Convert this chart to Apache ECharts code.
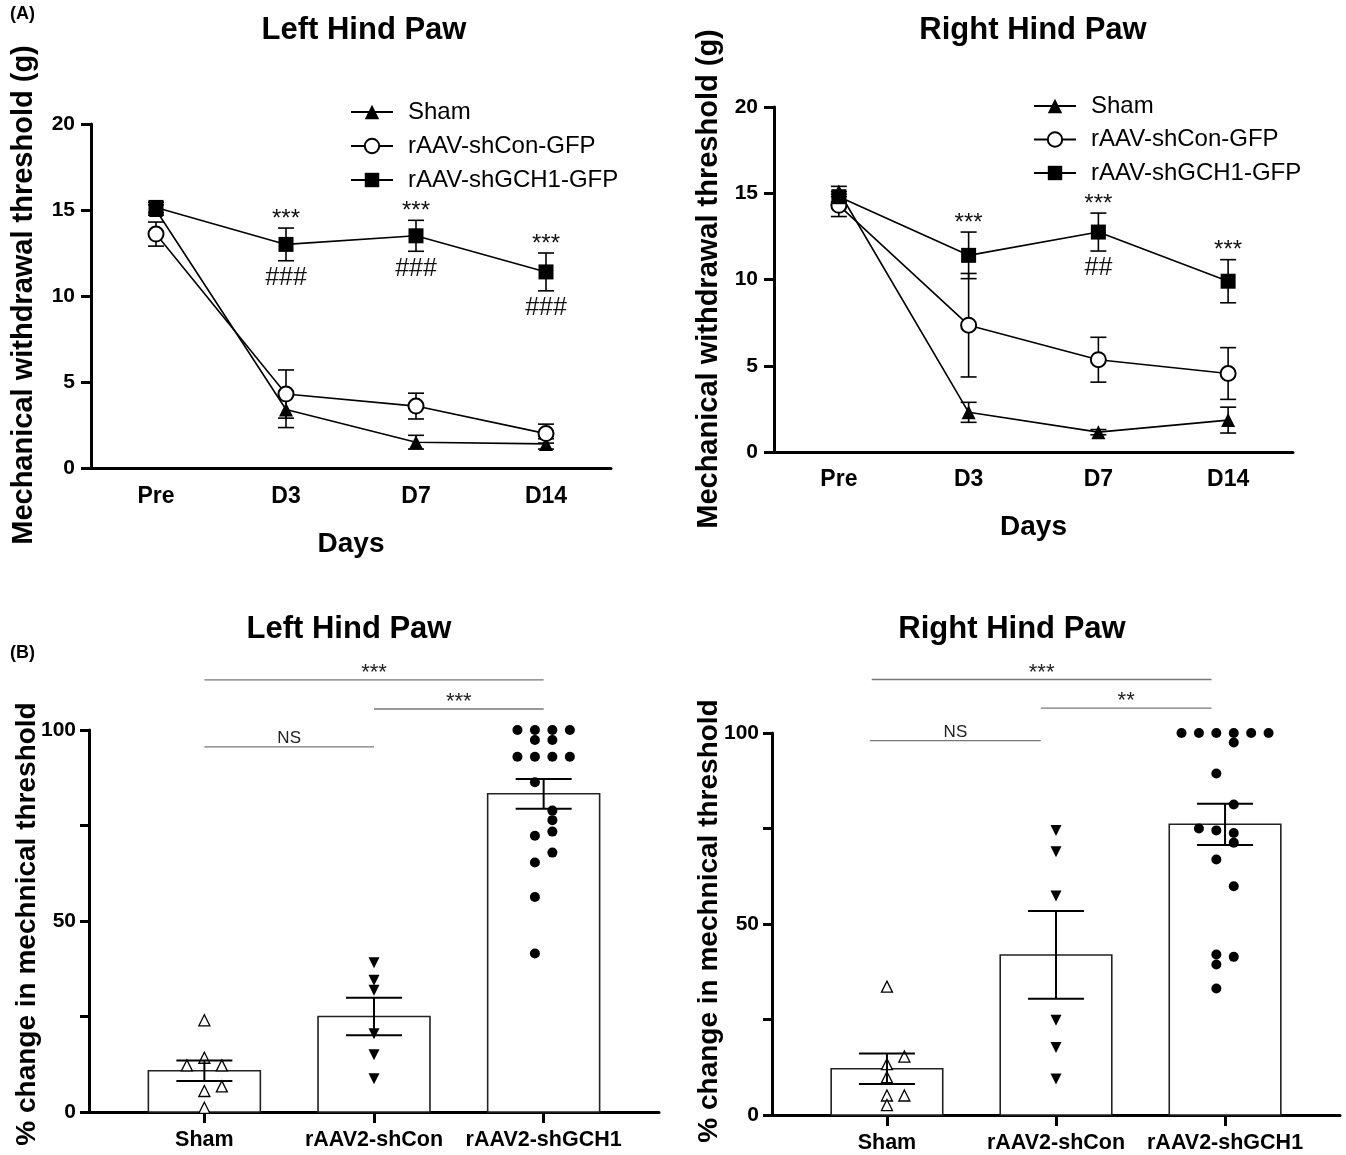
<!DOCTYPE html>
<html><head><meta charset="utf-8">
<script src="https://cdn.jsdelivr.net/npm/echarts@6/dist/echarts.min.js"></script>
<style>html,body{margin:0;padding:0;background:#fff}#c{width:1346px;height:1155px}</style>
</head><body><div id="c"></div>
<script>
// ---------- data ----------
const days = ['Pre', 'D3', 'D7', 'D14'];
const lineNames = ['Sham', 'rAAV-shCon-GFP', 'rAAV-shGCH1-GFP'];

// (A) Left hind paw: mean and SEM
const leftSham = [15.0, 3.4, 1.5, 1.4];
const leftShamSem = [0.3, 1.05, 0.4, 0.3];
const leftShCon = [13.6, 4.3, 3.6, 2.0];
const leftShConSem = [0.7, 1.4, 0.75, 0.55];
const leftShGCH1 = [15.15, 13.0, 13.5, 11.4];
const leftShGCH1Sem = [0.3, 0.95, 0.9, 1.1];
const leftStars = ['', '***', '***', '***'];
const leftHashes = ['', '###', '###', '###'];

// (A) Right hind paw: mean and SEM
const rightSham = [15.1, 2.3, 1.15, 1.85];
const rightShamSem = [0.3, 0.58, 0.15, 0.75];
const rightShCon = [14.3, 7.35, 5.35, 4.55];
const rightShConSem = [0.65, 3.0, 1.3, 1.5];
const rightShGCH1 = [14.8, 11.4, 12.75, 9.9];
const rightShGCH1Sem = [0.3, 1.35, 1.1, 1.25];
const rightStars = ['', '***', '***', '***'];
const rightHashes = ['', '', '##', ''];

// (B) % change in mechanical threshold
const groups = ['Sham', 'rAAV2-shCon', 'rAAV2-shGCH1'];
const leftPctMean = [10.8, 25.0, 83.3];
const leftPctSem = [2.7, 4.9, 3.9];
const leftShamPts = [24.0, 14.2, 12.2, 12.2, 6.7, 5.5, 1.1];
const leftShamCol = [0, 0, -1, 1, 1, 0, 0];
const leftShConPts = [39.1, 34.5, 31.9, 20.5, 15.0, 8.7];
const leftShConCol = [0, 0, 0, 0, 0, 0];
const leftGCH1Pts = [100, 100, 100, 100, 97.4, 97.4, 93.0, 93.0, 93.0, 93.0, 86.3, 78.9, 76.4, 73.4, 72.3, 67.9, 65.3, 56.3, 41.5];
const leftGCH1Col = [-1.5, -0.5, 0.5, 1.5, -0.5, 0.5, -1.5, -0.5, 0.5, 1.5, -0.5, 0.5, 0.5, 0.5, -0.5, 0.5, -0.5, -0.5, -0.5];
const leftBrackets = [[0, 2, 113.1, '***'], [1, 2, 105.5, '***'], [0, 1, 95.6, 'NS']];

const rightPctMean = [12.1, 41.9, 76.1];
const rightPctSem = [4.0, 11.5, 5.4];
const rightShamPts = [33.6, 15.3, 13.3, 9.9, 5.1, 5.1, 2.6];
const rightShamCol = [0, 1, 0, 0, 0, 1, 0];
const rightShConPts = [74.5, 68.9, 57.3, 24.8, 17.7, 9.4];
const rightShConCol = [0, 0, 0, 0, 0, 0];
const rightGCH1Pts = [100, 100, 100, 100, 100, 100, 97.5, 89.4, 81.3, 75.0, 74.5, 73.8, 71.3, 66.9, 59.9, 42.0, 41.4, 39.4, 33.1];
const rightGCH1Col = [-2.5, -1.5, -0.5, 0.5, 1.5, 2.5, 0.5, -0.5, 0.5, -1.5, -0.5, 0.5, 0.5, -0.5, 0.5, -0.5, 0.5, -0.5, -0.5];
const rightBrackets = [[-0.09, 1.92, 114.0, '***'], [0.91, 1.92, 106.5, '**'], [-0.1, 0.91, 98.0, 'NS']];

// ---------- styling ----------
const F = 'Liberation Sans, Arial, Helvetica, sans-serif';
const BLACK = '#000';
const COL_W = 0.103;   // width of one scatter column (category units)
const BAR_HALF = 0.33; // half bar width (category units)

function lineAxisX(gi, margin, gap) {
  return {
    type: 'category', gridIndex: gi, data: days, boundaryGap: true,
    axisLine: { lineStyle: { color: BLACK, width: 3 } },
    axisTick: { alignWithLabel: true, length: 10, lineStyle: { color: BLACK, width: 3 } },
    axisLabel: { color: BLACK, fontFamily: F, fontWeight: 'bold', fontSize: 23, margin },
    name: 'Days', nameLocation: 'middle', nameGap: gap,
    nameTextStyle: { color: BLACK, fontFamily: F, fontWeight: 'bold', fontSize: 28 },
    splitLine: { show: false }
  };
}
function lineAxisY(gi) {
  return {
    type: 'value', gridIndex: gi, min: 0, max: 20, interval: 5,
    axisLine: { show: true, lineStyle: { color: BLACK, width: 3 } },
    axisTick: { show: true, length: 10, lineStyle: { color: BLACK, width: 3 } },
    axisLabel: { color: BLACK, fontFamily: F, fontWeight: 'bold', fontSize: 21, margin: 16 },
    splitLine: { show: false }
  };
}
function barAxisX(gi) {
  return {
    type: 'value', gridIndex: gi, min: -0.68, max: 2.68,
    axisLine: { onZero: false, lineStyle: { color: BLACK, width: 3 } },
    axisTick: { show: true, customValues: [0, 1, 2], length: 11, lineStyle: { color: BLACK, width: 3 } },
    axisLabel: { customValues: [0, 1, 2], formatter: v => groups[Math.round(v)], color: BLACK, fontFamily: F, fontWeight: 'bold', fontSize: 21.5, margin: 17 },
    splitLine: { show: false }
  };
}
function barAxisY(gi) {
  return {
    type: 'value', gridIndex: gi, min: 0, max: 100, interval: 25,
    axisLine: { show: true, onZero: false, lineStyle: { color: BLACK, width: 3 } },
    axisTick: { show: true, length: 9, lineStyle: { color: BLACK, width: 3 } },
    axisLabel: { formatter: v => (v % 50 === 0 ? String(v) : ''), color: BLACK, fontFamily: F, fontWeight: 'bold', fontSize: 21, margin: 13 },
    splitLine: { show: false }
  };
}

function lineSeries(gi, name, values, symbol, size, z) {
  return {
    type: 'line', name, xAxisIndex: gi, yAxisIndex: gi, data: values,
    symbol, symbolSize: size, showAllSymbol: true, clip: false, z,
    lineStyle: { color: BLACK, width: 1.6 },
    itemStyle: { color: BLACK, borderColor: BLACK, borderWidth: symbol === 'emptyCircle' ? 1.6 : 0, opacity: 1 },
    emphasis: { disabled: true }
  };
}
function errorBars(gi, means, sems, cap, lw, z) {
  return {
    type: 'custom', xAxisIndex: gi, yAxisIndex: gi, z, clip: false, silent: true,
    data: means.map((m, i) => [i, m - sems[i], m + sems[i]]),
    renderItem(params, api) {
      const x = api.value(0);
      const lo = api.coord([x, api.value(1)]);
      const hi = api.coord([x, api.value(2)]);
      const h = cap / 2;
      const st = { stroke: BLACK, lineWidth: lw };
      return { type: 'group', children: [
        { type: 'line', shape: { x1: lo[0], y1: lo[1], x2: hi[0], y2: hi[1] }, style: st },
        { type: 'line', shape: { x1: lo[0] - h, y1: lo[1], x2: lo[0] + h, y2: lo[1] }, style: st },
        { type: 'line', shape: { x1: hi[0] - h, y1: hi[1], x2: hi[0] + h, y2: hi[1] }, style: st }
      ] };
    }
  };
}
function sigMarks(gi, means, sems, stars, hashes) {
  return {
    type: 'custom', xAxisIndex: gi, yAxisIndex: gi, z: 10, clip: false, silent: true,
    data: means.map((m, i) => [i, m + sems[i], m - sems[i]]),
    renderItem(params, api) {
      const i = params.dataIndex;
      const top = api.coord([api.value(0), api.value(1)]);
      const bot = api.coord([api.value(0), api.value(2)]);
      return { type: 'group', children: [
        { type: 'text', x: top[0], y: top[1] + 3, style: { text: stars[i], fill: '#111', font: '24px ' + F, textAlign: 'center', align: 'center', textVerticalAlign: 'bottom', verticalAlign: 'bottom' } },
        { type: 'text', x: bot[0], y: bot[1] + 5, style: { text: hashes[i], fill: '#111', font: '25px ' + F, textAlign: 'center', align: 'center', textVerticalAlign: 'top', verticalAlign: 'top' } }
      ] };
    }
  };
}
function bars(gi, means) {
  return {
    type: 'custom', xAxisIndex: gi, yAxisIndex: gi, z: 2, silent: true,
    data: means.map((m, i) => [i, m]),
    renderItem(params, api) {
      const i = api.value(0);
      const p0 = api.coord([i - BAR_HALF, api.value(1)]);
      const p1 = api.coord([i + BAR_HALF, 0]);
      return { type: 'rect', shape: { x: p0[0], y: p0[1], width: p1[0] - p0[0], height: p1[1] - p0[1] },
        style: { fill: '#fff', stroke: '#222', lineWidth: 1.6 } };
    }
  };
}
function dots(gi, idx, pts, cols, symbol, size, filled, rotate) {
  return {
    type: 'scatter', xAxisIndex: gi, yAxisIndex: gi, z: 5, clip: false, silent: true,
    data: pts.map((v, k) => [idx + cols[k] * COL_W, v]),
    symbol, symbolSize: size, symbolRotate: rotate || 0,
    itemStyle: filled ? { color: BLACK, opacity: 1 } : { color: '#fff', borderColor: BLACK, borderWidth: 1.3, opacity: 1 }
  };
}
function brackets(gi, list) {
  return {
    type: 'custom', xAxisIndex: gi, yAxisIndex: gi, z: 6, clip: false, silent: true,
    data: list.map(b => [b[0], b[1], b[2]]),
    renderItem(params, api) {
      const a = api.coord([api.value(0), api.value(2)]);
      const b = api.coord([api.value(1), api.value(2)]);
      const label = list[params.dataIndex][3];
      const isNS = label === 'NS';
      return { type: 'group', children: [
        { type: 'line', shape: { x1: a[0], y1: a[1], x2: b[0], y2: b[1] }, style: { stroke: '#777', lineWidth: 1.3 } },
        { type: 'text', x: (a[0] + b[0]) / 2, y: a[1] + (isNS ? 0 : 4), style: { text: label, fill: '#222', font: (isNS ? '17px ' : '22px ') + F, textAlign: 'center', align: 'center', textVerticalAlign: 'bottom', verticalAlign: 'bottom' } }
      ] };
    }
  };
}

const chart = echarts.init(document.getElementById('c'), null, { renderer: 'canvas' });
const titleStyle = { color: BLACK, fontFamily: F, fontWeight: 'bold', fontSize: 31 };
const yNameFontA = 'bold 29px ' + F;
const yNameFontB = 'bold 28px ' + F;
const legendText = { color: BLACK, fontFamily: F, fontSize: 24, padding: [0, 0, 0, 10] };

chart.setOption({
  backgroundColor: '#fff',
  animation: false,
  title: [
    { text: 'Left Hind Paw', left: 364, top: 15, padding: 0, textAlign: 'center', textStyle: titleStyle },
    { text: 'Right Hind Paw', left: 1033, top: 15, padding: 0, textAlign: 'center', textStyle: titleStyle },
    { text: 'Left Hind Paw', left: 349, top: 614, padding: 0, textAlign: 'center', textStyle: titleStyle },
    { text: 'Right Hind Paw', left: 1012, top: 614, padding: 0, textAlign: 'center', textStyle: titleStyle }
  ],
  legend: [
    { left: 350, top: 100, padding: 0, orient: 'vertical', itemWidth: 42, itemHeight: 18, itemGap: 10, data: lineNames,
      textStyle: legendText, selectedMode: false },
    { left: 1033, top: 94, padding: 0, orient: 'vertical', itemWidth: 42, itemHeight: 18, itemGap: 9.5, data: lineNames,
      textStyle: legendText, selectedMode: false }
  ],
  grid: [
    { left: 91, top: 124, width: 520, height: 344 },
    { left: 774, top: 107, width: 519, height: 345 },
    { left: 89, top: 730, width: 570, height: 382 },
    { left: 772, top: 733, width: 568, height: 382 }
  ],
  xAxis: [lineAxisX(0, 17, 62), lineAxisX(1, 16, 61), barAxisX(2), barAxisX(3)],
  yAxis: [lineAxisY(0), lineAxisY(1), barAxisY(2), barAxisY(3)],
  graphic: [
    { type: 'text', x: 10, y: 5, style: { text: '(A)', font: 'bold 18px ' + F, fill: BLACK } },
    { type: 'text', x: 10, y: 644, style: { text: '(B)', font: 'bold 18px ' + F, fill: BLACK } },
    { type: 'text', x: 24, y: 295, rotation: Math.PI / 2, style: { text: 'Mechanical withdrawal threshold (g)', font: yNameFontA, fill: BLACK, textAlign: 'center', align: 'center', textVerticalAlign: 'middle', verticalAlign: 'middle' } },
    { type: 'text', x: 709, y: 279, rotation: Math.PI / 2, style: { text: 'Mechanical withdrawal threshold (g)', font: yNameFontA, fill: BLACK, textAlign: 'center', align: 'center', textVerticalAlign: 'middle', verticalAlign: 'middle' } },
    { type: 'text', x: 27, y: 924, rotation: Math.PI / 2, style: { text: '% change in mechnical threshold', font: yNameFontB, fill: BLACK, textAlign: 'center', align: 'center', textVerticalAlign: 'middle', verticalAlign: 'middle' } },
    { type: 'text', x: 709, y: 921, rotation: Math.PI / 2, style: { text: '% change in mechnical threshold', font: yNameFontB, fill: BLACK, textAlign: 'center', align: 'center', textVerticalAlign: 'middle', verticalAlign: 'middle' } }
  ],
  series: [
    errorBars(0, leftSham, leftShamSem, 16, 1.6, 2),
    errorBars(0, leftShCon, leftShConSem, 16, 1.6, 2),
    errorBars(0, leftShGCH1, leftShGCH1Sem, 16, 1.6, 2),
    lineSeries(0, lineNames[0], leftSham, 'triangle', 14, 3),
    lineSeries(0, lineNames[1], leftShCon, 'emptyCircle', 15, 4),
    lineSeries(0, lineNames[2], leftShGCH1, 'rect', 15, 5),
    sigMarks(0, leftShGCH1, leftShGCH1Sem, leftStars, leftHashes),

    errorBars(1, rightSham, rightShamSem, 16, 1.6, 2),
    errorBars(1, rightShCon, rightShConSem, 16, 1.6, 2),
    errorBars(1, rightShGCH1, rightShGCH1Sem, 16, 1.6, 2),
    lineSeries(1, lineNames[0], rightSham, 'triangle', 14, 3),
    lineSeries(1, lineNames[1], rightShCon, 'emptyCircle', 15, 4),
    lineSeries(1, lineNames[2], rightShGCH1, 'rect', 15, 5),
    sigMarks(1, rightShGCH1, rightShGCH1Sem, rightStars, rightHashes),

    bars(2, leftPctMean),
    errorBars(2, leftPctMean, leftPctSem, 56, 2, 6),
    dots(2, 0, leftShamPts, leftShamCol, 'triangle', 11, false),
    dots(2, 1, leftShConPts, leftShConCol, 'triangle', 11, true, 180),
    dots(2, 2, leftGCH1Pts, leftGCH1Col, 'circle', 10, true),
    brackets(2, leftBrackets),

    bars(3, rightPctMean),
    errorBars(3, rightPctMean, rightPctSem, 56, 2, 6),
    dots(3, 0, rightShamPts, rightShamCol, 'triangle', 11, false),
    dots(3, 1, rightShConPts, rightShConCol, 'triangle', 11, true, 180),
    dots(3, 2, rightGCH1Pts, rightGCH1Col, 'circle', 10, true),
    brackets(3, rightBrackets)
  ]
});
</script></body></html>
